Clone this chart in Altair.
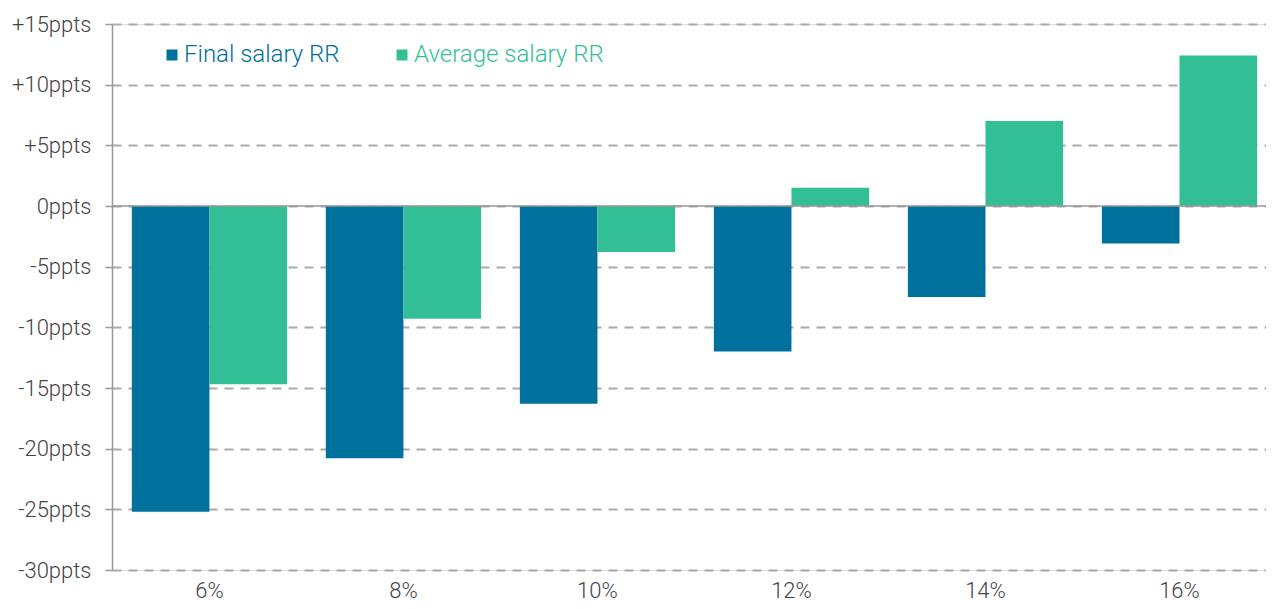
import altair as alt
import pandas as pd

categories = ["6%", "8%", "10%", "12%", "14%", "16%"]
series_names = ["Final salary RR", "Average salary RR"]
final_salary = [-25.2, -20.8, -16.3, -12.0, -7.5, -3.1]
average_salary = [-14.7, -9.3, -3.8, 1.5, 7.0, 12.4]
y_ticks = [15, 10, 5, 0, -5, -10, -15, -20, -25, -30]
colors = ["#00709c", "#33bf95"]

rows = []
for i, c in enumerate(categories):
    rows.append({"cat": c, "series": series_names[0], "value": final_salary[i]})
    rows.append({"cat": c, "series": series_names[1], "value": average_salary[i]})
df = pd.DataFrame(rows)

FONT = "Roboto"

legend_fill = ("datum.label == '" + series_names[0] + "' ? '" + colors[0] + "' : '" + colors[1] + "'")

bars = alt.Chart(df).mark_bar().encode(
    x=alt.X("cat:N", sort=categories,
            scale=alt.Scale(paddingInner=0.2, paddingOuter=0.074, align=0.69),
            axis=alt.Axis(title=None, labelAngle=0, ticks=False, domain=False,
                          labelFont=FONT, labelFontSize=22, labelFontWeight=300,
                          labelColor="#444444", labelPadding=10, grid=False)),
    xOffset=alt.XOffset("series:N", sort=series_names, scale=alt.Scale(paddingInner=0, paddingOuter=0)),
    y=alt.Y("value:Q", scale=alt.Scale(domain=[-30, 15], nice=False),
            axis=alt.Axis(title=None, values=y_ticks,
                          labelExpr="datum.value > 0 ? '+' + datum.value + 'ppts' : datum.value + 'ppts'",
                          labelFont=FONT, labelFontSize=22, labelFontWeight=300,
                          labelColor="#444444", labelPadding=14,
                          tickSize=7, tickColor="#999999", tickWidth=1.5,
                          domainColor="#999999", domainWidth=1.5,
                          grid=True, gridDash=[9, 7], gridColor="#aaaaaa", gridWidth=2)),
    color=alt.Color("series:N", sort=series_names,
                    scale=alt.Scale(domain=series_names, range=colors),
                    legend=alt.Legend(title=None, orient="none", legendX=48, legendY=19,
                                      direction="horizontal", symbolType="square",
                                      symbolSize=121, symbolStrokeWidth=0,
                                      labelFont=FONT, labelFontSize=24, labelFontWeight=300,
                                      labelOffset=0, columnPadding=50, labelLimit=400,
                                      labelColor=alt.ExprRef(legend_fill))),
)

zero = alt.Chart(pd.DataFrame({"v": [0]})).mark_rule(color="#999999", strokeWidth=1.5).encode(
    y=alt.Y("v:Q")
)

chart = alt.layer(bars, zero).properties(
    width=1154, height=546,
    padding={"left": 104, "top": 16, "right": 0, "bottom": 31},
    autosize=alt.AutoSizeParams(type="none"),
).configure_view(stroke=None).configure(background="white")

chart.save("out.html", embed_options={"renderer": "svg", "actions": False})
